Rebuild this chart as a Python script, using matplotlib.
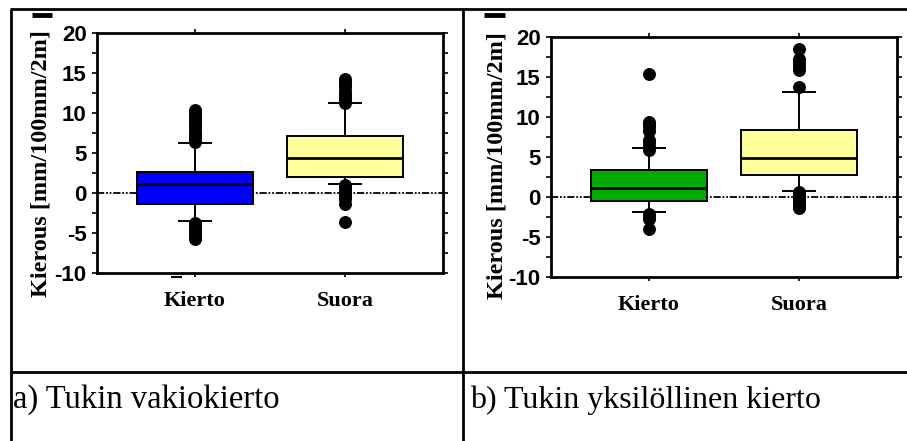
import matplotlib
matplotlib.use("Agg")
import matplotlib.pyplot as plt
from matplotlib.lines import Line2D
from matplotlib.ticker import MultipleLocator

# ---- data -------------------------------------------------------------
categories = ["Kierto", "Suora"]
panel_titles = ["a) Tukin vakiokierto", "b) Tukin yksilöllinen kierto"]
y_label = "Kierous [mm/100mm/2m]"
y_ticks = [-10, -5, 0, 5, 10, 15, 20]

# a) constant log rotation
a_q1 = [-1.4, 2.0]
a_med = [1.1, 4.4]
a_q3 = [2.6, 7.15]
a_whislo = [-3.5, 1.1]
a_whishi = [6.2, 11.2]
a_fliers_kierto = [6.4, 6.7, 7.0, 7.4, 7.8, 8.2, 8.6, 9.0, 9.4, 9.8, 10.1, 10.4,
                   -3.7, -4.0, -4.3, -4.6, -4.9, -5.2, -5.5, -5.7]
a_fliers_suora = [11.3, 11.6, 12.0, 12.4, 12.8, 13.2, 13.6, 13.9, 14.2,
                  1.0, 0.7, 0.4, 0.1, -0.2, -0.5, -0.8, -1.4, -3.6]

# b) individual log rotation
b_q1 = [-0.45, 2.8]
b_med = [1.1, 4.85]
b_q3 = [3.4, 8.4]
b_whislo = [-1.85, 0.75]
b_whishi = [6.1, 13.1]
b_fliers_kierto = [5.9, 6.3, 6.7, 7.1, 8.3, 8.7, 9.1, 9.4, 15.4,
                   -2.1, -2.4, -2.8, -4.0]
b_fliers_suora = [13.7, 15.9, 16.3, 16.8, 17.3, 18.5,
                  0.6, 0.3, 0.0, -0.3, -0.6, -0.9, -1.2, -1.4]

colors_a = ["#0000FF", "#FFFF99"]
colors_b = ["#00AA00", "#FFFF99"]

# ---- figure -----------------------------------------------------------
W, H = 907, 441
fig = plt.figure(figsize=(W / 100, H / 100), dpi=100)
fig.patch.set_facecolor("white")

SERIF = "Liberation Serif"
SANS = "Liberation Sans"


def px_rect(x0, y0, x1, y1):
    return [x0 / W, 1 - y1 / H, (x1 - x0) / W, (y1 - y0) / H]


def fig_line(x0, y0, x1, y1, lw=2.0):
    fig.add_artist(Line2D([x0 / W, x1 / W], [1 - y0 / H, 1 - y1 / H],
                          transform=fig.transFigure, color="black", lw=lw,
                          solid_capstyle="butt"))


def draw_panel(rect, q1, med, q3, wlo, whi, fliers, colors, label_xy):
    ax = fig.add_axes(rect)
    stats = []
    for i, cat in enumerate(categories):
        stats.append(dict(label=cat, q1=q1[i], med=med[i], q3=q3[i],
                          whislo=wlo[i], whishi=whi[i], fliers=fliers[i]))
    res = ax.bxp(stats, positions=[1, 2], widths=0.77, capwidths=0.21,
                 patch_artist=True, showfliers=True,
                 boxprops=dict(edgecolor="black", linewidth=1.4),
                 medianprops=dict(color="black", linewidth=2.0),
                 whiskerprops=dict(color="black", linewidth=1.4),
                 capprops=dict(color="black", linewidth=1.4),
                 flierprops=dict(marker="o", markerfacecolor="black",
                                 markeredgecolor="black", markersize=8.3))
    for patch, c in zip(res["boxes"], colors):
        patch.set_facecolor(c)
        patch.set_zorder(2)
    ax.axhline(0, color="black", lw=1.3, zorder=1,
               dashes=(4, 1.0, 1.0, 1.0, 1.0, 1.0))

    ax.set_xlim(0.35, 2.65)
    ax.set_ylim(-10, 20)
    ax.set_yticks(y_ticks)
    ax.set_yticklabels([str(v) for v in y_ticks], fontfamily=SANS,
                       fontweight="bold", fontsize=16)
    ax.yaxis.set_minor_locator(MultipleLocator(2.5))
    ax.set_xticks([1, 2])
    ax.set_xticklabels(categories, fontfamily=SERIF, fontweight="bold",
                       fontsize=16)
    ax.tick_params(axis="y", which="both", direction="out", length=3.5,
                   width=1.2, left=True, right=True, pad=4)
    ax.tick_params(axis="x", which="both", direction="out", length=3,
                   width=1.2, top=True, bottom=True, pad=10)
    for s in ax.spines.values():
        s.set_linewidth(2.0)
    ax.set_ylabel(y_label, fontfamily=SERIF, fontweight="bold", fontsize=17.5)
    ax.yaxis.set_label_coords(*label_xy)
    return ax


draw_panel(px_rect(97, 33, 443, 273), a_q1, a_med, a_q3, a_whislo, a_whishi,
           [a_fliers_kierto, a_fliers_suora], colors_a, (-0.132, 0.455))
draw_panel(px_rect(551, 37, 897, 277), b_q1, b_med, b_q3, b_whislo, b_whishi,
           [b_fliers_kierto, b_fliers_suora], colors_b, (-0.126, 0.465))

# ---- table frame and captions -----------------------------------------
fig_line(10, 9, W, 9)
fig_line(11, 9, 11, H)
fig_line(463, 9, 463, H)
fig_line(10, 372, W, 372)

# small stray marks above the axis titles and under the first category
fig_line(32, 15, 52, 15, lw=3.5)
fig_line(484, 15, 505, 15, lw=3.5)
fig_line(171, 277, 182, 277, lw=1.5)

fig.text(13 / W, 1 - 400 / H, panel_titles[0], fontfamily=SERIF,
         fontsize=23.5, va="center", ha="left")
fig.text(470 / W, 1 - 400 / H, panel_titles[1], fontfamily=SERIF,
         fontsize=23, va="center", ha="left")

fig.savefig("out.png", dpi=100, facecolor="white")
